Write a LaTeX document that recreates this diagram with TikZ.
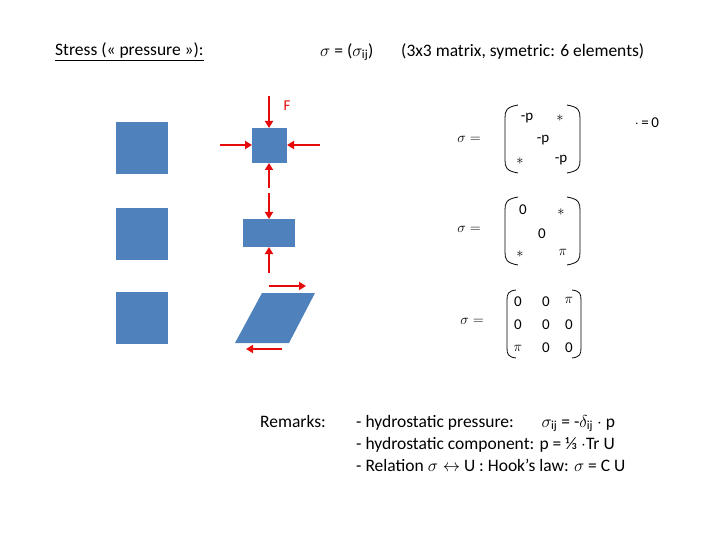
\documentclass[tikz,border=0pt]{standalone}
\usepackage{fontspec}
\setmainfont{Carlito}
\usepackage{amsmath}
\usetikzlibrary{arrows.meta}
\begin{document}
\begin{tikzpicture}[x=1pt,y=-1pt,
 lbl/.style={inner sep=0pt,font=\fontsize{15}{17}\selectfont},
 big/.style={inner sep=0pt,font=\fontsize{17.5}{22}\selectfont}]
\definecolor{bl}{RGB}{79,129,189}
\definecolor{fr}{RGB}{230,10,10}
\tikzset{farr/.style={draw=fr,line width=2pt,-{Triangle[length=7pt,width=8pt]}},
 par/.style={line width=0.8pt}}
\useasboundingbox (0,0) rectangle (720,540);
\node[big,anchor=west] (t1) at (55,52) {\underline{Stress (« pressure »):}};
\node[big,anchor=west] (t2) at (320,52) {$\sigma$ = ($\sigma_{\text{ij}}$)};
\node[big,anchor=west] (t3) at (401,52) {(3x3 matrix, symetric: 6 elements)};
\fill[bl] (116,122) rectangle (168,174);
\fill[bl] (116,208) rectangle (168,260);
\fill[bl] (116,292) rectangle (168,344);
\fill[bl] (252,128) rectangle (287,163);
\fill[bl] (243,219) rectangle (295,247);
\fill[bl] (262,293) -- (315,293) -- (289,343) -- (235,343) -- cycle;
\coordinate (a1) at (269,96); \coordinate (a1e) at (269,128);
\draw[farr] (a1) -- (a1e);
\draw[farr] (220,145) -- (252,145);
\draw[farr] (320,145) -- (287,145);
\draw[farr] (269,188) -- (269,163);
\draw[farr] (269,193) -- (269,219);
\draw[farr] (269,273) -- (269,247);
\draw[farr] (269,286) -- (306,286);
\draw[farr] (282,349) -- (246,349);
\node[text=fr,lbl] (F) at (287,106) {F};
\node[lbl] (s1) at (469,139) {$\sigma =$};
\node[lbl] (s2) at (469,229) {$\sigma =$};
\node[lbl] (s3) at (472,321) {$\sigma =$};
\node[lbl] at (527,118) {-p};
\node[lbl] at (560,118) {$*$};
\node[lbl] at (543,140) {-p};
\node[lbl] at (520,161) {$*$};
\node[lbl] at (561,160) {-p};
\node[lbl] at (647,123) {$\cdot$\,=\,0};
\node[lbl] at (523,210) {0};
\node[lbl] at (561,212) {$*$};
\node[lbl] at (542,234) {0};
\node[lbl] at (520,254) {$*$};
\node[lbl] at (563,252) {$\pi$};
\node[lbl] at (518,302) {0};\node[lbl] at (546,302) {0};\node[lbl] at (569,300) {$\pi$};
\node[lbl] at (518,325) {0};\node[lbl] at (546,325) {0};\node[lbl] at (569,325) {0};
\node[lbl] at (518,348) {$\pi$};\node[lbl] at (546,348) {0};\node[lbl] at (569,348) {0};
\draw[par] (518,105) .. controls (506,107) and (505,111) .. (505,118) -- (505,160) .. controls (505,167) and (506,171) .. (518,173);
\draw[par] (567,105) .. controls (579,107) and (580,111) .. (580,118) -- (580,160) .. controls (580,167) and (579,171) .. (567,173);
\draw[par] (518,197) .. controls (506,199) and (505,203) .. (505,210) -- (505,252) .. controls (505,259) and (506,263) .. (518,265);
\draw[par] (567,197) .. controls (579,199) and (580,203) .. (580,210) -- (580,252) .. controls (580,259) and (579,263) .. (567,265);
\draw[par] (516,290) .. controls (508,291) and (507,294) .. (507,300) -- (507,348) .. controls (507,354) and (508,357) .. (516,358);
\draw[par] (572,290) .. controls (580,291) and (581,294) .. (581,300) -- (581,348) .. controls (581,354) and (580,357) .. (572,358);
\node[big,anchor=west] (rem) at (260,421) {Remarks:};
\node[big,anchor=west,align=left] (r) at (356,443) {%
- hydrostatic pressure:\quad\; $\sigma_{\text{ij}}$ = -$\delta_{\text{ij}}$ $\cdot$ p\\
- hydrostatic component: p = ⅓ $\cdot$Tr U\\
- Relation $\sigma \leftrightarrow$ U : Hook’s law: $\sigma$ = C U};
\end{tikzpicture}
\end{document}
